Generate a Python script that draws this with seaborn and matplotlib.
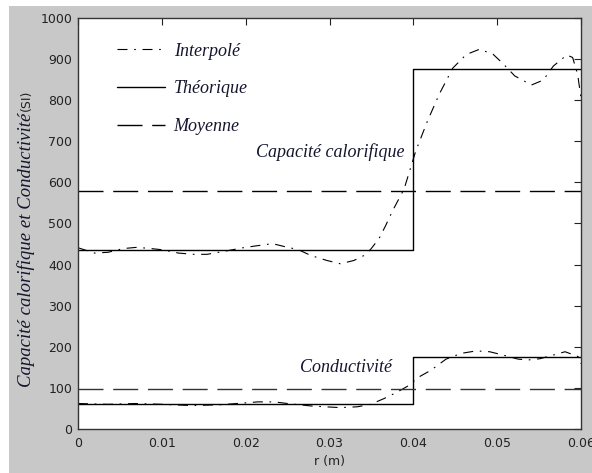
import numpy as np
import pandas as pd
import matplotlib
matplotlib.use("Agg")
import matplotlib.pyplot as plt
from matplotlib.patches import Rectangle
import seaborn as sns

# Radial positions (m) and interpolated heat capacity
r_cap = [0.0, 0.002, 0.0036, 0.0054, 0.007, 0.0087, 0.0101, 0.012, 0.0138, 0.0154,
         0.0168, 0.0184, 0.0197, 0.0214, 0.0232, 0.025, 0.0262, 0.0278, 0.0297, 0.0313,
         0.0329, 0.0341, 0.0349, 0.0359, 0.0367, 0.0375, 0.0389, 0.0403, 0.0417, 0.0431,
         0.0447, 0.0463, 0.0479, 0.0495, 0.0507, 0.0521, 0.0541, 0.0555, 0.0567, 0.0583,
         0.059, 0.0596, 0.06]
cap_interp = [441, 428, 430, 439, 442, 439, 436, 428, 425, 425,
              430, 436, 441, 446, 451, 442, 437, 422, 410, 402,
              410, 422, 437, 463, 495, 530, 584, 677, 750, 815,
              878, 911, 924, 912, 889, 859, 837, 849, 883, 910,
              904, 863, 805]

# Radial positions (m) and interpolated conductivity
r_cond = [0.0, 0.0036, 0.0068, 0.0101, 0.0136, 0.017, 0.0215, 0.0234, 0.025, 0.0278,
          0.0313, 0.0333, 0.0349, 0.0365, 0.0381, 0.0393, 0.0407, 0.0421, 0.0439, 0.0457,
          0.0475, 0.0491, 0.0507, 0.0525, 0.0537, 0.0551, 0.0567, 0.0581, 0.0597, 0.06]
cond_interp = [62, 60, 62, 60, 57, 59, 66, 66, 62, 56,
               52, 54, 60, 74, 90, 104, 127, 143, 170, 184,
               190, 188, 180, 170, 168, 171, 180, 188, 176, 159]

# Theoretical two-layer profile and its mean
r_layers = [0.0, 0.04, 0.06]
cap_theo = [435, 875, 875]
cond_theo = [60, 176, 176]
r_mean = [0.0, 0.06]
cap_mean = [580, 580]
cond_mean = [98, 98]

x_ticks = [0, 0.01, 0.02, 0.03, 0.04, 0.05, 0.06]
x_tick_labels = ["0", "0.01", "0.02", "0.03", "0.04", "0.05", "0.06"]
y_ticks = [0, 100, 200, 300, 400, 500, 600, 700, 800, 900, 1000]

sns.set_theme(style="white")
plt.rcParams["font.family"] = ["DejaVu Sans"]

W, H = 592, 473
fig = plt.figure(figsize=(W / 100, H / 100), dpi=100, facecolor="white")
fig.add_artist(Rectangle((9 / W, 0), 1 - 9 / W, 1 - 6 / H, transform=fig.transFigure,
                         facecolor="#c8c8c8", edgecolor="none", zorder=0))

ax = fig.add_axes([78 / W, 1 - 429 / H, (581 - 78) / W, (429 - 18) / H])
ax.set_facecolor("white")

dashdot = (0, (9, 6, 1.5, 6))
longdash = (0, (18, 7))
ink = "black"

df_cap = pd.DataFrame({"r": r_cap, "v": cap_interp})
df_cond = pd.DataFrame({"r": r_cond, "v": cond_interp})
df_cap_t = pd.DataFrame({"r": r_layers, "v": cap_theo})
df_cond_t = pd.DataFrame({"r": r_layers, "v": cond_theo})
df_cap_m = pd.DataFrame({"r": r_mean, "v": cap_mean})
df_cond_m = pd.DataFrame({"r": r_mean, "v": cond_mean})

sns.lineplot(data=df_cap, x="r", y="v", ax=ax, color=ink, lw=0.8, linestyle=dashdot,
             estimator=None, sort=False, label="Interpolé")
sns.lineplot(data=df_cond, x="r", y="v", ax=ax, color=ink, lw=0.8, linestyle=dashdot,
             estimator=None, sort=False)
sns.lineplot(data=df_cap_t, x="r", y="v", ax=ax, color=ink, lw=1.0, drawstyle="steps-post",
             estimator=None, sort=False, label="Théorique")
sns.lineplot(data=df_cond_t, x="r", y="v", ax=ax, color=ink, lw=1.0, drawstyle="steps-post",
             estimator=None, sort=False)
sns.lineplot(data=df_cap_m, x="r", y="v", ax=ax, color=ink, lw=1.0, linestyle=longdash,
             estimator=None, sort=False, label="Moyenne")
sns.lineplot(data=df_cond_m, x="r", y="v", ax=ax, color="#333333", lw=1.0, linestyle=longdash,
             estimator=None, sort=False)

ax.set_xlim(0, 0.06)
ax.set_ylim(0, 1000)
ax.set_xticks(x_ticks)
ax.set_xticklabels(x_tick_labels)
ax.set_yticks(y_ticks)
ax.tick_params(direction="in", length=5, width=0.8, top=True, right=True,
               labelsize=9, colors="#222222", pad=4)
ax.tick_params(axis="x", pad=6)
for s in ax.spines.values():
    s.set_visible(True)
    s.set_color("#333333")
    s.set_linewidth(1.0)

ax.set_xlabel("r (m)", fontsize=9, color="#222222", labelpad=3)
ax.set_ylabel("")

serif_it = dict(family=["Liberation Serif", "DejaVu Serif"], style="italic")
label_col = "#15152e"

fig.text(26 / W, 1 - 113 / H, "Capacité calorifique et Conductivité", rotation=90,
         ha="center", va="top", fontsize=13.5, color=label_col, **serif_it)
fig.text(26 / W, 1 - 111 / H, "(SI)", rotation=90, ha="center", va="bottom",
         fontsize=9, color="#222222")

ax.text(0.0212, 663, "Capacité calorifique", fontsize=13, color=label_col,
        ha="left", va="baseline", **serif_it)
ax.text(0.0265, 139, "Conductivité", fontsize=13, color=label_col,
        ha="left", va="baseline", **serif_it)

leg = ax.legend(loc="upper left", bbox_to_anchor=(0.077, 0.94), frameon=False,
                handlelength=2.7, handletextpad=0.45, labelspacing=1.15, borderpad=0,
                borderaxespad=0, prop={"family": ["Liberation Serif"], "style": "italic",
                                       "size": 13})
for t in leg.get_texts():
    t.set_color(label_col)

fig.savefig("out.png", dpi=100, facecolor="white")
